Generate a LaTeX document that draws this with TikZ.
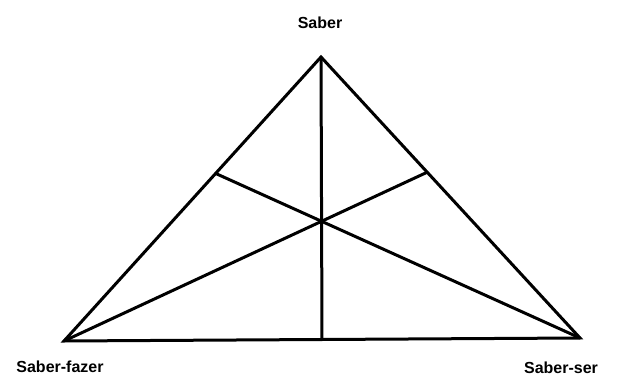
\documentclass[tikz,border=0pt]{standalone}
\usepackage{fontspec}
\setmainfont{Liberation Sans}
\usetikzlibrary{calc}
\tikzset{edge/.style={line width=3pt,line join=miter},lbl/.style={font=\bfseries\fontsize{16}{18}\selectfont,inner sep=0pt}}
\begin{document}
\begin{tikzpicture}[x=1pt,y=-1pt]
\useasboundingbox(0,0)rectangle(621,385);
\coordinate(s)at(321,57);\coordinate(f)at(64,341);\coordinate(r)at(580,338);
\coordinate(fs)at($(s)!0.41!(f)$);\coordinate(rs)at($(s)!0.41!(r)$);\coordinate(fr)at($(f)!0.5!(r)$);
\draw[edge](s)--(f)--(r)--cycle;
\foreach\a/\b in{s/fr,f/rs,r/fs}\draw[edge](\a)--(\b);
\node[lbl](saber)at(320,23){Saber};
\node[lbl](fazer)at(60,367){Saber-fazer};
\node[lbl](ser)at(561,368){Saber-ser};
\end{tikzpicture}
\end{document}
